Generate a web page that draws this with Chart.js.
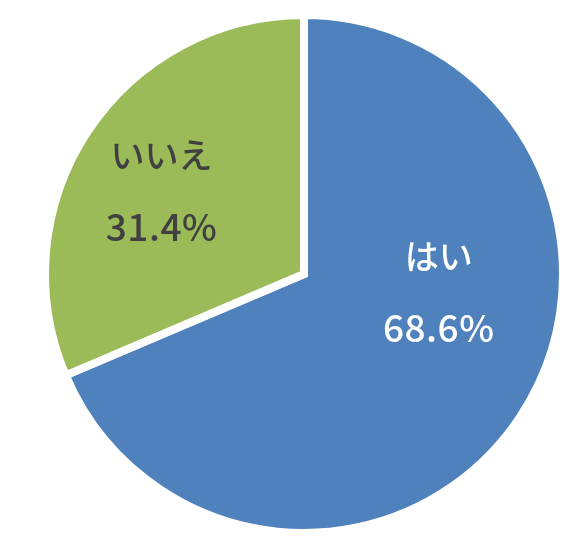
<!DOCTYPE html>
<html>
<head>
<meta charset="utf-8">
<script src="https://cdn.jsdelivr.net/npm/chart.js@4"></script>
<style>
  html, body { margin: 0; padding: 0; background: #fff; }
  #wrap { width: 583px; height: 543px; }
</style>
</head>
<body>
<div id="wrap"><canvas id="pie-chart"></canvas></div>
<script>
const labels = ['はい', 'いいえ'];
const percents = [68.6, 31.4];
const sliceColors = ['#4F81BD', '#9BBB59'];
const textColors = ['#ffffff', '#404040'];

// where each label block sits, as a fraction of the radius from the centre
const labelSpots = [[0.52, 0.07], [-0.55, -0.32]];

const sliceLabels = {
  id: 'sliceLabels',
  afterDatasetsDraw(chart) {
    const ctx = chart.ctx;
    const arcs = chart.getDatasetMeta(0).data;
    ctx.save();
    ctx.textAlign = 'center';
    ctx.textBaseline = 'middle';
    arcs.forEach((arc, i) => {
      const r = arc.outerRadius;
      const x = arc.x + labelSpots[i][0] * r;
      const y = arc.y + labelSpots[i][1] * r;
      ctx.fillStyle = textColors[i];
      ctx.font = '500 34px "Noto Sans CJK JP", "Noto Sans", sans-serif';
      ctx.letterSpacing = '0px';
      ctx.fillText(labels[i], x, y - 36);
      ctx.font = '500 37px "Noto Sans CJK JP", "Noto Sans", sans-serif';
      ctx.letterSpacing = '0.5px';
      ctx.fillText(percents[i].toFixed(1) + '%', x, y + 36);
    });
    ctx.restore();
  }
};

new Chart(document.getElementById('pie-chart'), {
  type: 'pie',
  data: {
    labels: labels,
    datasets: [{
      data: percents,
      backgroundColor: sliceColors,
      borderColor: '#ffffff',
      borderWidth: 8,
      borderJoinStyle: 'miter'
    }]
  },
  options: {
    responsive: true,
    maintainAspectRatio: false,
    animation: false,
    radius: 259,
    layout: { padding: { left: 25, right: 0, top: 5, bottom: 0 } },
    plugins: {
      legend: { display: false },
      tooltip: { enabled: false }
    }
  },
  plugins: [sliceLabels]
});
</script>
</body>
</html>
